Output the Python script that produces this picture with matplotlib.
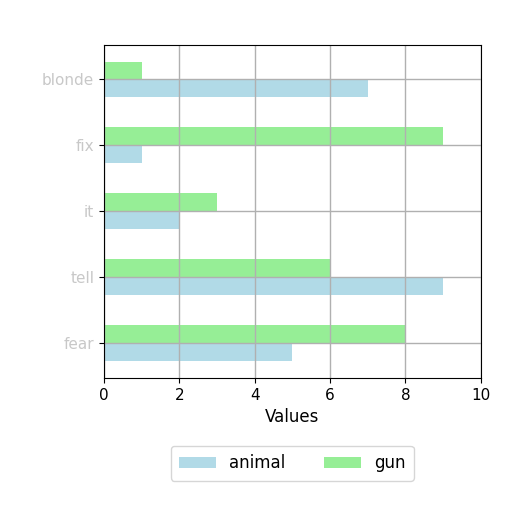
import numpy as np
import matplotlib.pyplot as plt

# Data (bottom to top)
categories = ['fear', 'tell', 'it', 'fix', 'blonde']
animal = [5, 9, 2, 1, 7]
gun = [8, 6, 3, 9, 1]

y = np.arange(len(categories))
h = 0.27

fig = plt.figure(figsize=(5.12, 5.12), dpi=100)
ax = fig.add_axes([0.203, 0.262, 0.736, 0.65])

ax.barh(y - h / 2, animal, height=h, color='#add8e6', alpha=0.95, label='animal')
ax.barh(y + h / 2, gun, height=h, color='#90ee90', alpha=0.95, label='gun')

ax.set_xlim(0, 10)
ax.set_ylim(-0.53, 4.52)
ax.set_yticks(y)
ax.set_yticklabels(categories, color='#c8c8c8')
ax.set_xticks([0, 2, 4, 6, 8, 10])
ax.set_xlabel('Values', fontsize=12)
ax.tick_params(axis='x', labelsize=11)
ax.tick_params(axis='y', labelsize=11)
ax.grid(True, color='#b0b0b0', linewidth=1)

ax.legend(loc='upper center', bbox_to_anchor=(0.5, -0.18), ncol=2,
          fontsize=12, columnspacing=2.3, handlelength=2.2,
          borderpad=0.5)

fig.savefig('out.png', dpi=100)
